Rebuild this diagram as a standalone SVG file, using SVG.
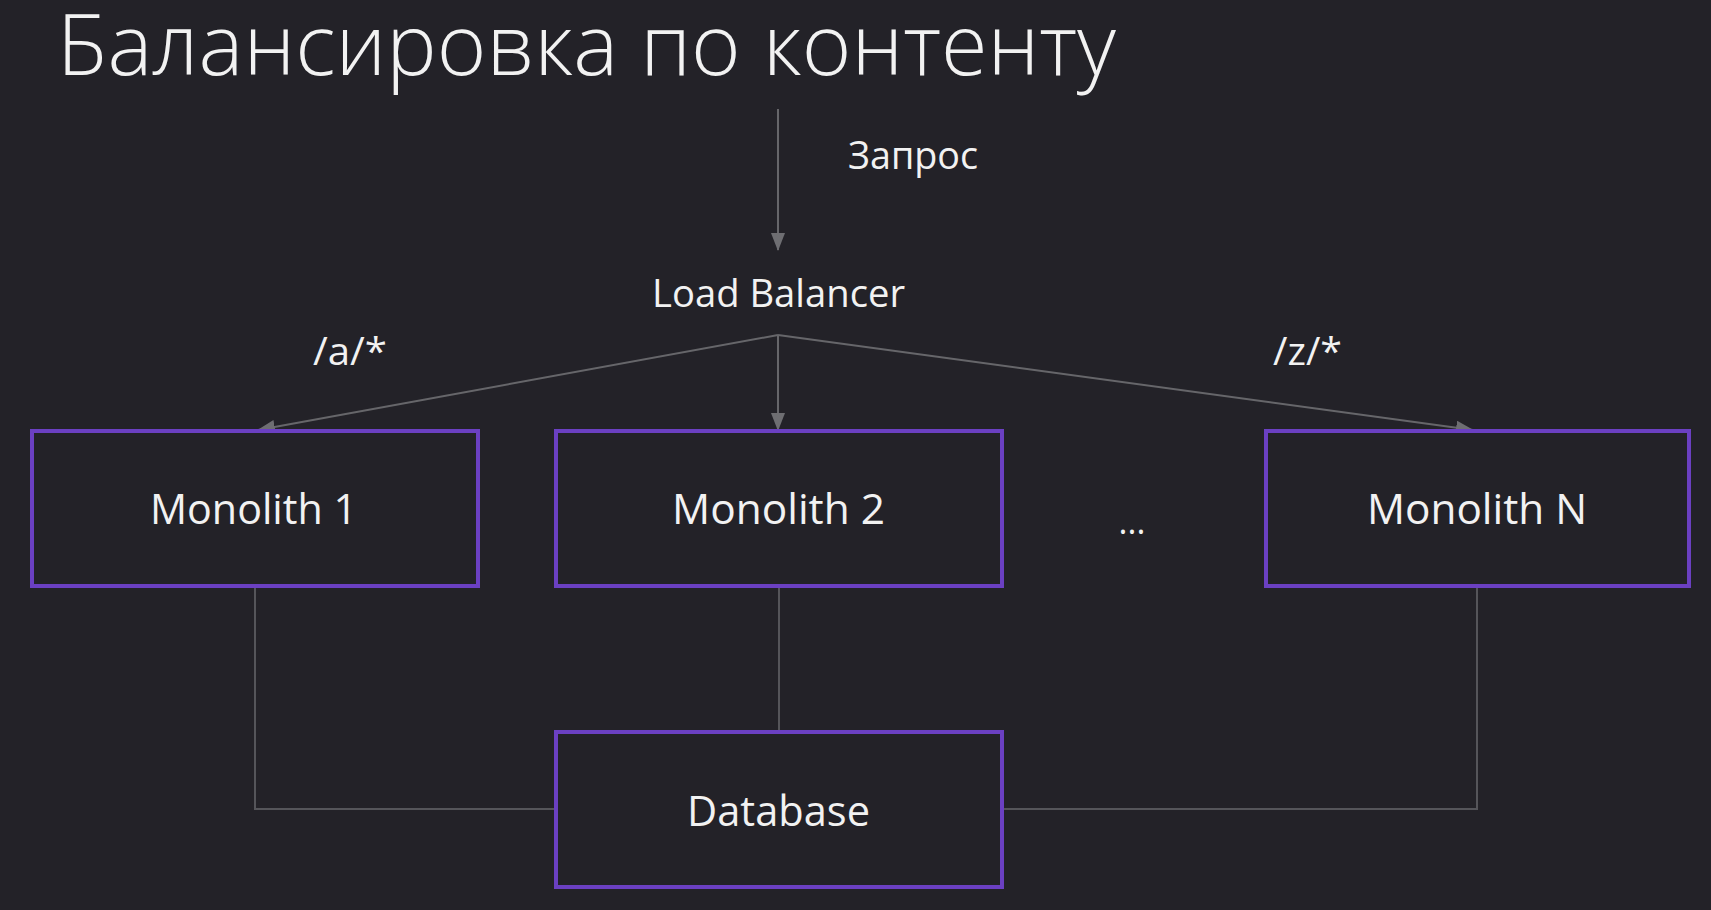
<svg xmlns="http://www.w3.org/2000/svg" width="1711" height="910" viewBox="0 0 1711 910">
  <style>
    .bg { fill: #232228; }
    .box { fill: #232228; stroke: #6b40c2; stroke-width: 4; }
    .lbl { fill: #f2f2f2; font-family: "Open Sans", "Noto Sans", "Liberation Sans", sans-serif; }
    .node-text { font-size: 42px; text-anchor: middle; }
    .edge { fill: none; stroke: #66666a; stroke-width: 2; }
    .link { fill: none; stroke: #55555a; stroke-width: 2; }
  </style>
  <defs>
    <marker id="arrow" markerUnits="userSpaceOnUse" markerWidth="14" markerHeight="18" viewBox="0 0 14 18" refX="7" refY="17" orient="auto-start-reverse">
      <path d="M0,0 L14,0 L7,18 Z" fill="#6e6e72" transform="rotate(0)"/>
    </marker>
    <marker id="arr" markerUnits="userSpaceOnUse" markerWidth="18" markerHeight="14" viewBox="0 0 18 14" refX="17" refY="7" orient="auto">
      <path d="M0,0 L18,7 L0,14 Z" fill="#6e6e72"/>
    </marker>
  </defs>
  <rect class="bg" x="0" y="0" width="1711" height="910"/>

  <text id="title" class="lbl" x="57" y="75" font-size="84" font-weight="300" textLength="1059" lengthAdjust="spacingAndGlyphs">Балансировка по контенту</text>

  <g id="connectors">
    <line class="edge" x1="778" y1="109" x2="778" y2="250" marker-end="url(#arr)"/>
    <line class="edge" x1="778" y1="335" x2="258" y2="430" marker-end="url(#arr)"/>
    <line class="edge" x1="778" y1="335" x2="778" y2="430" marker-end="url(#arr)"/>
    <line class="edge" x1="778" y1="335" x2="1473" y2="430" marker-end="url(#arr)"/>
    <polyline class="link" points="255,588 255,809 556,809"/>
    <line class="link" x1="779" y1="588" x2="779" y2="732"/>
    <polyline class="link" points="1477,588 1477,809 1002,809"/>
    <text id="label-request" class="lbl" x="848" y="169" font-size="38" textLength="130" lengthAdjust="spacingAndGlyphs">Запрос</text>
    <text id="label-a" class="lbl" x="313" y="365" font-size="39" textLength="74" lengthAdjust="spacingAndGlyphs">/a/*</text>
    <text id="label-z" class="lbl" x="1273" y="365" font-size="39" textLength="69" lengthAdjust="spacingAndGlyphs">/z/*</text>
  </g>

  <g id="load-balancer">
    <text class="lbl" x="652" y="307" font-size="39" textLength="253" lengthAdjust="spacingAndGlyphs">Load Balancer</text>
  </g>

  <g id="monolith-1">
    <rect class="box" x="32" y="431" width="446" height="155"/>
    <text class="lbl" x="150" y="524" font-size="42" textLength="207" lengthAdjust="spacingAndGlyphs">Monolith 1</text>
  </g>

  <g id="monolith-2">
    <rect class="box" x="556" y="431" width="446" height="155"/>
    <text class="lbl" x="672" y="524" font-size="42" textLength="213" lengthAdjust="spacingAndGlyphs">Monolith 2</text>
  </g>

  <g id="ellipsis">
    <text class="lbl" x="1132" y="534" font-size="34" text-anchor="middle">...</text>
  </g>

  <g id="monolith-n">
    <rect class="box" x="1266" y="431" width="423" height="155"/>
    <text class="lbl" x="1367" y="524" font-size="42" textLength="220" lengthAdjust="spacingAndGlyphs">Monolith N</text>
  </g>

  <g id="database">
    <rect class="box" x="556" y="732" width="446" height="155"/>
    <text class="lbl" x="687" y="826" font-size="42" textLength="183" lengthAdjust="spacingAndGlyphs">Database</text>
  </g>
</svg>
